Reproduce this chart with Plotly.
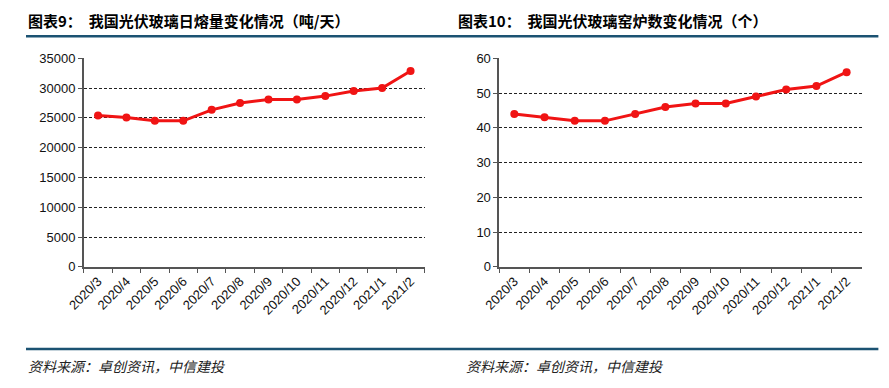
import plotly.graph_objects as go

months = ["2020/3", "2020/4", "2020/5", "2020/6", "2020/7", "2020/8", "2020/9",
          "2020/10", "2020/11", "2020/12", "2021/1", "2021/2"]
melt_capacity = [25400, 25050, 24500, 24500, 26350, 27500, 28100, 28100, 28650, 29500, 30000, 32850]
furnace_count = [44, 43, 42, 42, 44, 46, 47, 47, 49, 51, 52, 56]

left_title = "图表9：  我国光伏玻璃日熔量变化情况（吨/天）"
right_title = "图表10：  我国光伏玻璃窑炉数变化情况（个）"
source_text = "资料来源：卓创资讯，中信建投"

W, H = 889, 388
OFF = 8  # page body margin offset
RED = "#F01414"
LINE_BLUE = "#1B5272"

fig = go.Figure()
fig.add_trace(go.Scatter(x=months, y=melt_capacity, mode="lines+markers",
                         line=dict(color=RED, width=3), marker=dict(size=8, color=RED),
                         xaxis="x", yaxis="y", showlegend=False))
fig.add_trace(go.Scatter(x=months, y=furnace_count, mode="lines+markers",
                         line=dict(color=RED, width=3), marker=dict(size=8, color=RED),
                         xaxis="x2", yaxis="y2", showlegend=False))

def fx(v):
    return (v - OFF) / W

def fy(v):
    return 1 - (v - OFF) / H

y_dom = [fy(270), fy(53)]
tickfont = dict(family="Liberation Sans, Arial", size=13, color="#111")

xcommon = dict(type="category", range=[-0.5, 11.5], showgrid=False, showline=True,
               linecolor="#555", linewidth=1.5, ticks="outside", ticklen=4, tickcolor="#555",
               tickson="boundaries", tickangle=-45, tickfont=tickfont, fixedrange=True)
ycommon = dict(showgrid=True, gridcolor="#222", griddash="3px,2px", gridwidth=1,
               showline=True, linecolor="#555", linewidth=1.5, ticks="outside", ticklen=4,
               tickcolor="#555", tickfont=tickfont, zeroline=False, fixedrange=True,
               tickformat="d")

fig.update_layout(
    width=W, height=H,
    margin=dict(l=0, r=0, t=0, b=0),
    paper_bgcolor="white", plot_bgcolor="white",
    xaxis=dict(domain=[fx(67), fx(415)], anchor="y", **xcommon),
    yaxis=dict(domain=y_dom, anchor="x", range=[0, 35000], dtick=5000, **ycommon),
    xaxis2=dict(domain=[fx(491), fx(861)], anchor="y2", **xcommon),
    yaxis2=dict(domain=y_dom, anchor="x2", range=[0, 60], dtick=10, **ycommon),
)

title_font = dict(family="Noto Sans CJK SC", size=15, color="#000")
fig.add_annotation(x=fx(8), y=fy(14), xref="paper", yref="paper", xanchor="left",
                   yanchor="middle", text="<b>" + left_title + "</b>", showarrow=False, font=title_font)
fig.add_annotation(x=fx(447), y=fy(14), xref="paper", yref="paper", xanchor="left",
                   yanchor="middle", text="<b>" + right_title + "</b>", showarrow=False, font=title_font)

src_font = dict(family="Noto Sans CJK SC", size=14, color="#222")
fig.add_annotation(x=fx(8), y=fy(373), xref="paper", yref="paper", xanchor="left",
                   yanchor="middle", text="<i>" + source_text + "</i>", showarrow=False, font=src_font)
fig.add_annotation(x=fx(455), y=fy(373), xref="paper", yref="paper", xanchor="left",
                   yanchor="middle", text="<i>" + source_text + "</i>", showarrow=False, font=src_font)

for yy in (30, 355.5):
    fig.add_shape(type="line", xref="paper", yref="paper", x0=fx(8), x1=fx(878),
                  y0=fy(yy), y1=fy(yy), line=dict(color=LINE_BLUE, width=2.5))

fig.write_html("out.html")
